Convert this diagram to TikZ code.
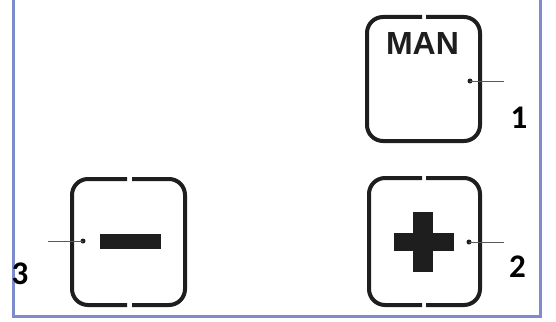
\documentclass[tikz,border=0pt]{standalone}
\usepackage{fontspec}
\newfontfamily\keyfont{Liberation Sans}
\newfontfamily\numfont{Carlito}
\usetikzlibrary{positioning}
\definecolor{framecol}{RGB}{125,140,205}
\definecolor{keycol}{RGB}{30,30,30}
\begin{document}
\begin{tikzpicture}[
      x=1pt, y=-1pt,
      key/.style={draw=keycol, line width=4pt, rounded corners=16pt},
      bar/.style={fill=keycol, draw=none},
      dot/.style={circle, fill=keycol, inner sep=0pt, minimum size=5pt},
      lead/.style={draw=black!65, line width=1pt},
      num/.style={font=\numfont\bfseries\fontsize{33}{33}\selectfont, anchor=base, inner sep=0pt}
    ]
    \useasboundingbox (0,0) rectangle (556,321);

    % frame
    \draw[framecol, line width=3pt] (13.5,-1) rectangle (540.5,316.5);

    % MAN key (gap on top only)
    \draw[key] (426,17) -- (480,17) -- (480,141) -- (367,141) -- (367,17) -- (422,17);
    \node[font=\keyfont\bfseries\fontsize{32}{32}\selectfont, text=keycol,
          anchor=base, inner sep=0pt] (man) at (422.5,55) {MAN};

    % minus key
    \draw[key] (127,179) -- (72,179) -- (72,305) -- (127,305);
    \draw[key] (132,179) -- (185,179) -- (185,305) -- (132,305);
    \path[bar] (100,234) rectangle (161,249);

    % plus key
    \draw[key] (422,178) -- (369,178) -- (369,305) -- (422,305);
    \draw[key] (426,178) -- (480,178) -- (480,305) -- (426,305);
    \path[bar] (394,233) rectangle (454,251);
    \path[bar] (413,212) rectangle (433,272);

    % pointer dots and free ends
    \node[dot] (d1) at (470,81)  {};
    \node[dot] (d2) at (469,242) {};
    \node[dot] (d3) at (83,241)  {};
    \coordinate (e1) at (504,81);
    \coordinate (e2) at (504,242);
    \coordinate (e3) at (48,241);

    % leader lines
    \draw[lead] (d1.center) -- (e1);
    \draw[lead] (d2.center) -- (e2);
    \draw[lead] (d3.center) -- (e3);

    % numbers
    \node[num] (n1) at (519,128)   {1};
    \node[num] (n2) at (517.5,277) {2};
    \node[num] (n3) at (20,284)    {3};

    \end{tikzpicture}
\end{document}
